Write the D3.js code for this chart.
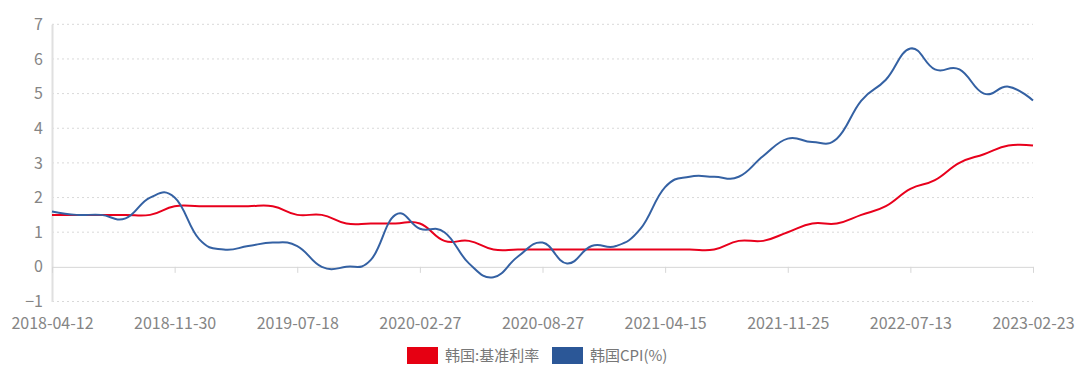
<!DOCTYPE html>
<html>
<head>
<meta charset="utf-8">
<script src="https://cdn.jsdelivr.net/npm/d3@7/dist/d3.min.js"></script>
<style>
  html, body { margin: 0; padding: 0; background: #fff; }
  svg text { font-family: "Microsoft YaHei", "Noto Sans CJK SC", "Noto Sans", sans-serif; }
</style>
</head>
<body>
<svg id="chart" width="1080" height="372"></svg>
<script>
// BOK meeting dates (category axis)
const dates = ["2018-04-12","2018-05-24","2018-07-12","2018-08-31","2018-10-18","2018-11-30",
  "2019-01-24","2019-02-28","2019-04-18","2019-05-31","2019-07-18","2019-08-30","2019-10-16","2019-11-29",
  "2020-01-17","2020-02-27","2020-03-16","2020-04-09","2020-05-28","2020-07-16","2020-08-27","2020-10-15","2020-11-26",
  "2021-01-15","2021-02-25","2021-04-15","2021-05-27","2021-07-15","2021-08-26","2021-10-12","2021-11-25",
  "2022-01-14","2022-02-24","2022-04-14","2022-05-26","2022-07-13","2022-08-25","2022-10-12","2022-11-24",
  "2023-01-13","2023-02-23"];

// 韩国:基准利率
const baseRate = [1.5,1.5,1.5,1.5,1.5,1.75,
  1.75,1.75,1.75,1.75,1.5,1.5,1.25,1.25,
  1.25,1.25,0.75,0.75,0.5,0.5,0.5,0.5,0.5,
  0.5,0.5,0.5,0.5,0.5,0.75,0.75,1.0,
  1.25,1.25,1.5,1.75,2.25,2.5,3.0,3.25,
  3.5,3.5];

// 韩国CPI(%)
const cpi = [1.6,1.5,1.5,1.4,2.0,2.0,
  0.8,0.5,0.6,0.7,0.6,0.0,0.0,0.2,
  1.5,1.1,1.0,0.1,-0.3,0.3,0.7,0.1,0.6,
  0.6,1.1,2.3,2.6,2.6,2.6,3.2,3.7,
  3.6,3.7,4.8,5.4,6.3,5.7,5.7,5.0,
  5.2,4.8];

const yTicks = [-1,0,1,2,3,4,5,6,7];
const xLabels = dates.filter(function(d, i) { return i % 5 === 0; });

const seriesNames = ["韩国:基准利率", "韩国CPI(%)"];
const seriesColors = ["#e8001c", "#3461a3"];
const legendColors = ["#e60012", "#2b5797"];

let svg = d3.select("#chart");
let plotLeft = 52, plotRight = 1033, plotTop = 24.3, plotBottom = 301.5;

let x = d3.scalePoint().domain(dates).range([plotLeft, plotRight]);
let y = d3.scaleLinear().domain([-1, 7]).range([plotBottom, plotTop]);

// grid lines (dotted)
svg.append("g")
  .selectAll("line")
  .data(yTicks.filter(function(t) { return t !== 0; }))
  .enter().append("line")
  .attr("x1", plotLeft).attr("x2", plotRight)
  .attr("y1", function(d) { return y(d); })
  .attr("y2", function(d) { return y(d); })
  .attr("stroke", "#d9d9d9")
  .attr("stroke-width", 1)
  .attr("stroke-dasharray", "2,3");

// y axis
let yAxis = svg.append("g")
  .attr("transform", "translate(" + plotLeft + ",0)")
  .call(d3.axisLeft(y).tickValues(yTicks).tickSize(0).tickPadding(9).tickFormat(d3.format("d")));
yAxis.select(".domain").attr("stroke", "#e0e0e0").attr("stroke-width", 2);
yAxis.selectAll("text").attr("fill", "#858585").style("font-size", "16px");

// x axis on the zero line
let xAxis = svg.append("g")
  .attr("transform", "translate(0," + y(0) + ")")
  .call(d3.axisBottom(x).tickValues(xLabels).tickSize(6).tickSizeOuter(0).tickPadding(0));
xAxis.select(".domain").attr("stroke", "#d6d6d6");
xAxis.selectAll(".tick line").attr("stroke", "#d6d6d6");
xAxis.selectAll("text")
  .attr("fill", "#858585")
  .attr("y", y(-1) - y(0) + 16)
  .style("font-size", "16px");

// lines
let line = d3.line()
  .x(function(d, i) { return x(dates[i]); })
  .y(function(d) { return y(d); })
  .curve(d3.curveCardinal.tension(-0.3));

[baseRate, cpi].forEach(function(s, k) {
  svg.append("path")
    .datum(s)
    .attr("fill", "none")
    .attr("stroke", seriesColors[k])
    .attr("stroke-width", 2)
    .attr("stroke-linejoin", "round")
    .attr("d", line);
});

// legend
let legendX = [407, 552];
let legend = svg.append("g");
seriesNames.forEach(function(name, k) {
  legend.append("rect")
    .attr("x", legendX[k]).attr("y", 347)
    .attr("width", 31).attr("height", 17)
    .attr("fill", legendColors[k]);
  legend.append("text")
    .attr("x", legendX[k] + 38).attr("y", 361)
    .attr("fill", "#777")
    .style("font-size", "15px")
    .text(name);
});
</script>
</body>
</html>
